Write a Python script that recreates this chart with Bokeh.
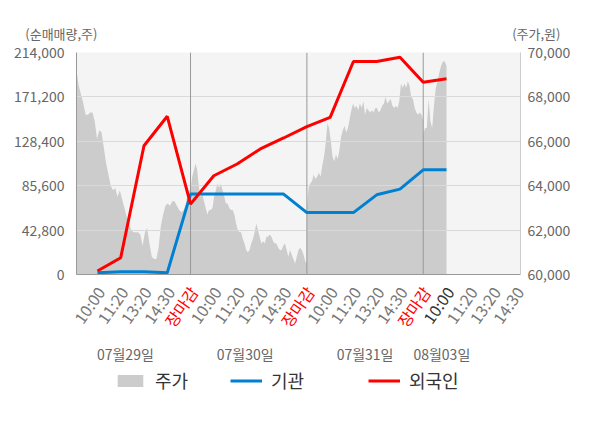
import numpy as np
from bokeh.plotting import figure
from bokeh.layouts import column
from bokeh.models import (Range1d, LinearAxis, FixedTicker, Legend, LegendItem,
                          NumeralTickFormatter)
from bokeh.core.properties import value
from bokeh.embed import file_html
from bokeh.resources import INLINE

FONT = "Noto Sans CJK KR"

# ---------------- data ----------------
DATES = ["07월29일", "07월30일", "07월31일", "08월03일"]
SESSION_TICKS = ["10:00", "11:20", "13:20", "14:30", "장마감"]
LAST_DAY_TICK_COUNT = 4          # ticks shown for the last (partial) day
CURRENT_TICK = 16                # 08월03일 10:00 (latest point)

VOL_TICKS = [0, 42800, 85600, 128400, 171200, 214000]
PRICE_TICKS = [60000, 62000, 64000, 66000, 68000, 70000]

# cumulative net buying (shares) at each tick
INST = [1700, 2700, 2700, 1700, 77500, 77500, 77500, 77500, 77500,
        59700, 59700, 59700, 76800, 82300, 100900, 100900]
FOREIGN = [3400, 16200, 124100, 152500, 67800, 95200, 106500, 121000, 131600,
           142500, 151500, 205300, 205300, 209500, 185300, 188600]

# share price (won)
PRICE_0729 = [69200, 68500, 68100, 67700, 67200, 67200, 67300, 67300, 66900, 66100,
              66500, 66400, 65700, 65000, 64500, 64000, 63800, 63900, 63500, 63800,
              63400, 63000, 62600, 62300, 62000, 61900, 61900, 61900, 61800, 61300,
              61900, 62100, 61400, 60800, 60700, 60700, 61200, 62200, 62700, 63100,
              63200, 63100, 63300, 63300, 63100, 62900, 62800, 62900, 63200, 63800,
              63800]
PRICE_0730 = [63800, 64400, 64700, 65000, 64700, 63900, 63500, 63600, 63300, 63000,
              62700, 62900, 62900, 63000, 63500, 63800, 64100, 63900, 64100, 63800,
              63500, 63200, 63200, 63000, 62900, 62900, 62700, 62300, 62000, 61900,
              61900, 61600, 61400, 61100, 61000, 61100, 61400, 61600, 61900, 62300,
              62000, 61700, 61400, 61500, 61400, 61700, 61700, 61800, 61700, 61500,
              61400, 61400, 61200, 61100, 61100, 61300, 61400, 61100, 60800, 61100,
              60900, 60700, 60500, 60800, 61100, 61200, 61100, 60900, 60600, 60500]
PRICE_0731 = [63000, 63900, 64100, 64200, 64500, 64300, 64400, 64600, 64400, 64900,
              65300, 65900, 66800, 66600, 66000, 65300, 65100, 65400, 65200, 65600,
              66200, 66500, 66700, 66400, 66600, 67000, 67400, 67700, 67500, 67600,
              67400, 67700, 67500, 67800, 67200, 67500, 67400, 67300, 67400, 67300,
              67500, 67500, 67300, 67400, 67600, 67700, 68000, 67700, 67800, 67900,
              67600, 67500, 67600, 67500, 67800, 68600, 68400, 68600, 68400, 68700,
              68500, 68000, 67900, 67500, 67300, 67200, 67300, 67200, 66900]
PRICE_0803 = [66300, 66600, 66600, 67900, 66900, 66600, 67600, 68400, 68700, 69100,
              69400, 69600, 69600, 69400]

# ---------------- layout constants ----------------
W = 600
TOP_H = 42
MAIN_TOP, FRAME_H, MAIN_BOT = 10, 222, 9
MAIN_H = MAIN_TOP + FRAME_H + MAIN_BOT
BOT_H = 428 - TOP_H - MAIN_H
FR_L, FR_R = 76, 80          # main frame borders (px)
FR_W = W - FR_L - FR_R
X0, X1 = 0.1, 19.18


def ext_range(px_left, px_right):
    s = (X1 - X0) / FR_W
    return Range1d(X0 + (px_left - FR_L) * s, X0 + (px_right - FR_L) * s)


# ---------------- derived ----------------
N_SLOT = len(SESSION_TICKS)
n_ticks = N_SLOT * 3 + LAST_DAY_TICK_COUNT
tick_x = list(range(1, n_ticks + 1))
tick_text = [SESSION_TICKS[(k - 1) % N_SLOT] for k in tick_x]
tick_color = []
for k, t in zip(tick_x, tick_text):
    if t == "장마감":
        tick_color.append("#ff0000")
    elif k == CURRENT_TICK:
        tick_color.append("#333333")
    else:
        tick_color.append("#777777")

days = [PRICE_0729, PRICE_0730, PRICE_0731]
px, py = [], []
for d, arr in enumerate(days):
    start = max(d * N_SLOT, X0)
    px.extend(np.linspace(start, (d + 1) * N_SLOT, len(arr)))
    py.extend(arr)
px.extend(np.linspace(3 * N_SLOT, CURRENT_TICK, len(PRICE_0803)))
py.extend(PRICE_0803)

point_x = list(range(1, len(INST) + 1))
bounds = [N_SLOT * i for i in range(1, 4)]

# ---------------- main figure ----------------
p = figure(width=W, height=MAIN_H, x_range=Range1d(X0, X1),
           y_range=Range1d(VOL_TICKS[0], VOL_TICKS[-1]),
           output_backend="svg", toolbar_location=None,
           min_border_left=FR_L, min_border_right=FR_R, min_border_top=MAIN_TOP,
           min_border_bottom=MAIN_BOT)
p.frame_align = False
p.extra_y_ranges = {"price": Range1d(PRICE_TICKS[0], PRICE_TICKS[-1])}
p.background_fill_color = "#f4f4f4"
p.border_fill_color = "white"
p.outline_line_color = None

p.xaxis.ticker = FixedTicker(ticks=[])
p.xaxis.axis_line_color = "#999999"
p.xaxis.major_tick_line_color = None
p.xaxis.minor_tick_line_color = None
p.xaxis.major_tick_out = 0
p.xaxis.major_label_standoff = 0
p.xaxis.axis_label_standoff = 0
p.xgrid.grid_line_color = None

p.yaxis.ticker = FixedTicker(ticks=VOL_TICKS)
p.yaxis.formatter = NumeralTickFormatter(format="0,0")
p.yaxis.major_label_text_color = "#666666"
p.yaxis.major_label_text_font = FONT
p.yaxis.major_label_text_font_size = "14px"
p.yaxis.major_tick_line_color = None
p.yaxis.minor_tick_line_color = None
p.yaxis.major_tick_out = 0
p.yaxis.axis_line_color = "#999999"
p.yaxis.major_label_standoff = 12
p.ygrid.grid_line_color = "#dadada"

ax_r = LinearAxis(y_range_name="price", ticker=FixedTicker(ticks=PRICE_TICKS),
                  formatter=NumeralTickFormatter(format="0,0"))
ax_r.major_label_text_color = "#666666"
ax_r.major_label_text_font = FONT
ax_r.major_label_text_font_size = "14px"
ax_r.major_tick_line_color = None
ax_r.minor_tick_line_color = None
ax_r.major_tick_out = 0
ax_r.axis_line_color = "#cccccc"
ax_r.major_label_standoff = 7
p.add_layout(ax_r, "right")

AREA_C, INST_C, FOR_C = "#cccccc", "#0080d0", "#ff0000"
p.varea(x=px, y1=PRICE_TICKS[0], y2=py, y_range_name="price",
        fill_color=AREA_C, level="image")
p.segment(x0=bounds, y0=VOL_TICKS[0], x1=bounds, y1=VOL_TICKS[-1],
          line_color="#999999", line_width=1)
p.line(x=point_x, y=INST, line_color=INST_C, line_width=3)
p.line(x=point_x, y=FOREIGN, line_color=FOR_C, line_width=3)


def blank_fig(h):
    f = figure(width=W, height=h, x_range=ext_range(0, W), y_range=Range1d(h, 0),
               output_backend="svg", toolbar_location=None,
               x_axis_location=None, y_axis_location=None,
               min_border_left=0, min_border_right=0, min_border_top=0,
               min_border_bottom=0)
    f.frame_align = False
    f.grid.grid_line_color = None
    f.outline_line_color = None
    f.background_fill_color = "white"
    f.border_fill_color = "white"
    return f


# ---------------- top strip: axis titles ----------------
top = blank_fig(TOP_H)
top.text(x=[-0.55, 19.86], y=[33, 33], text=["(순매매량,주)", "(주가,원)"],
         text_align="center", text_baseline="middle", text_font=value(FONT),
         text_font_size="13px", text_color="#666666")

# ---------------- bottom strip: tick labels, dates, legend ----------------
bot = blank_fig(BOT_H)
bot.text(x=tick_x, y=[5] * len(tick_x), text=tick_text, x_offset=3, angle=55,
         angle_units="deg", text_align="right", text_baseline="middle",
         text_font=value(FONT), text_font_size="16px", text_color=tick_color)
date_x = [2.2, 7.35, 12.5, 15.8]
bot.text(x=date_x, y=[70] * len(DATES), text=DATES, text_align="center",
         text_baseline="middle", text_font=value(FONT), text_font_size="14px",
         text_color="#666666")

# legend proxies (single point placed off the visible strip)
off = [-100]
r_a = bot.varea(x=off, y1=off, y2=off, fill_color=AREA_C)
r_i = bot.line(x=off, y=off, line_color=INST_C, line_width=3)
r_f = bot.line(x=off, y=off, line_color=FOR_C, line_width=3)
for (lab, rend, lx) in [("주가", r_a, 114), ("기관", r_i, 230), ("외국인", r_f, 368)]:
    lg = Legend(items=[LegendItem(label=lab, renderers=[rend])], location=(lx, 35),
                orientation="horizontal", glyph_width=32, glyph_height=15,
                label_height=15, label_standoff=9, padding=0, margin=0, spacing=0,
                background_fill_alpha=0, border_line_color=None,
                label_text_font=FONT, label_text_font_size="18px",
                label_text_color="#333333")
    bot.add_layout(lg, "center")

layout = column(top, p, bot, spacing=0)
open("out.html", "w").write(file_html(layout, INLINE))
